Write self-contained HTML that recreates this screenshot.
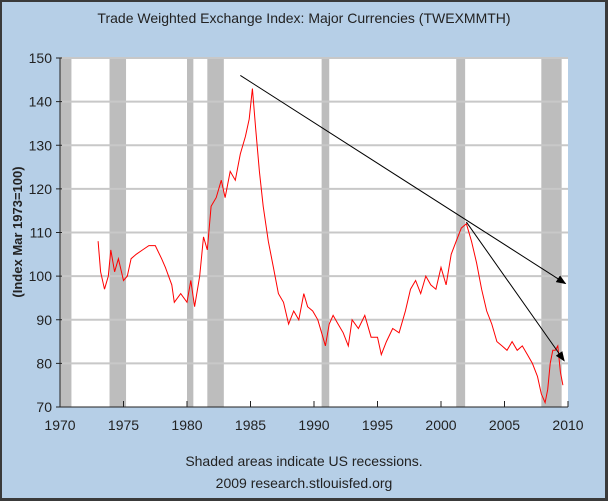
<!DOCTYPE html>
<html><head><meta charset="utf-8"><style>
body{margin:0;background:#fff}
svg{display:block;font-family:"Liberation Sans","DejaVu Sans",sans-serif}
</style></head><body>
<svg width="608" height="501" viewBox="0 0 608 501">
<rect x="0" y="0" width="608" height="501" fill="#3a3a3a"/>
<rect x="2" y="2" width="603" height="496" fill="#b6cfe7"/>
<text x="304" y="23" text-anchor="middle" font-size="14" fill="#222">Trade Weighted Exchange Index: Major Currencies (TWEXMMTH)</text>
<rect x="60" y="58" width="508" height="349" fill="#fff"/>
<g id="rec"></g><g id="grid"></g><g id="axes"></g>
<path id="line" fill="none" stroke="#ff0000" stroke-width="1"/>
<g id="trend"></g>
<text transform="translate(22,232) rotate(-90)" text-anchor="middle" font-size="13" font-weight="bold" fill="#222">(Index Mar 1973=100)</text>
<text x="304" y="466" text-anchor="middle" font-size="14" fill="#222">Shaded areas indicate US recessions.</text>
<text x="304" y="488" text-anchor="middle" font-size="14" fill="#222">2009 research.stlouisfed.org</text>
</svg>
<script>
const xTicks=[1970,1975,1980,1985,1990,1995,2000,2005,2010];
const yTicks=[70,80,90,100,110,120,130,140,150];
const recStart=[1970.0,1973.9,1980.0,1981.6,1990.6,2001.2,2007.9];
const recEnd=[1970.9,1975.2,1980.5,1982.9,1991.2,2001.9,2009.5];
const years=[1973.0,1973.2,1973.5,1973.8,1974.0,1974.3,1974.6,1975.0,1975.3,1975.6,1976.0,1976.5,1977.0,1977.5,1978.0,1978.3,1978.8,1979.0,1979.5,1980.0,1980.3,1980.6,1981.0,1981.3,1981.6,1981.9,1982.3,1982.7,1983.0,1983.4,1983.8,1984.2,1984.6,1984.9,1985.15,1985.4,1985.7,1986.0,1986.4,1986.8,1987.2,1987.6,1988.0,1988.4,1988.8,1989.2,1989.5,1989.9,1990.3,1990.7,1990.9,1991.2,1991.5,1991.9,1992.3,1992.7,1993.0,1993.5,1994.0,1994.5,1995.0,1995.3,1995.7,1996.2,1996.7,1997.2,1997.6,1998.0,1998.4,1998.8,1999.2,1999.6,2000.0,2000.4,2000.8,2001.2,2001.6,2002.0,2002.4,2002.8,2003.2,2003.6,2004.0,2004.4,2004.8,2005.2,2005.6,2006.0,2006.4,2006.8,2007.2,2007.6,2007.9,2008.2,2008.4,2008.6,2008.8,2009.0,2009.2,2009.4,2009.6];
const values=[108,101,97,100,106,101,104,99,100,104,105,106,107,107,104,102,98,94,96,94,99,93,100,109,106,116,118,122,118,124,122,128,132,136,143,134,124,116,108,102,96,94,89,92,90,96,93,92,90,86,84,89,91,89,87,84,90,88,91,86,86,82,85,88,87,92,97,99,96,100,98,97,102,98,105,108,111,112,108,103,97,92,89,85,84,83,85,83,84,82,80,77,73,71,74,80,83,83,84,78,75];
const trendX1=[1984.2,2002.0];const trendY1=[146,112.4];
const trendX2=[2009.8,2009.7];const trendY2=[98.3,80.6];
const X=v=>60+(v-1970)*508/40, Y=v=>407-(v-70)*349/80;
const ns="http://www.w3.org/2000/svg";
function mk(t,a,p){const e=document.createElementNS(ns,t);for(const k in a)e.setAttribute(k,a[k]);p.appendChild(e);return e;}
const rec=document.getElementById('rec'),grid=document.getElementById('grid'),axes=document.getElementById('axes'),trend=document.getElementById('trend');
recStart.forEach((s,i)=>{const r=mk('rect',{x:X(s),y:58,width:X(recEnd[i])-X(s),height:349,fill:'#bdbdbd'},rec);

});
yTicks.forEach(v=>{if(v>70){const l=mk('line',{x1:60,x2:568,y1:Y(v),y2:Y(v),stroke:'#c8c8c8','stroke-width':2},grid);

}
const t=mk('line',{x1:56,x2:62,y1:Y(v),y2:Y(v),stroke:'#222'},axes);


const tx=mk('text',{x:52,y:Y(v)+5,'text-anchor':'end','font-size':14,fill:'#222'},axes);tx.textContent=v;

});
mk('line',{x1:60,x2:60,y1:58,y2:407,stroke:'#222'},axes);
mk('line',{x1:60,x2:568,y1:407,y2:407,stroke:'#222'},axes);
xTicks.forEach(v=>{const t=mk('line',{x1:X(v),x2:X(v),y1:401,y2:407,stroke:'#222'},axes);


const tx=mk('text',{x:X(v),y:430,'text-anchor':'middle','font-size':14,fill:'#222'},axes);tx.textContent=v;

});
document.getElementById('line').setAttribute('d',years.map((y,i)=>(i?'L':'M')+X(y).toFixed(1)+','+Y(values[i]).toFixed(1)).join(''));
mk('defs',{},trend).innerHTML='<marker id="ar" markerWidth="10" markerHeight="8" refX="9" refY="4" orient="auto" markerUnits="userSpaceOnUse"><path d="M0,0L10,4L0,8z" fill="#000"/></marker>';
trendX1.forEach((s,i)=>{const l=mk('line',{x1:X(s),y1:Y(trendY1[i]),x2:X(trendX2[i]),y2:Y(trendY2[i]),stroke:'#000','stroke-width':1,'marker-end':'url(#ar)'},trend);

});
</script>
</body></html>
